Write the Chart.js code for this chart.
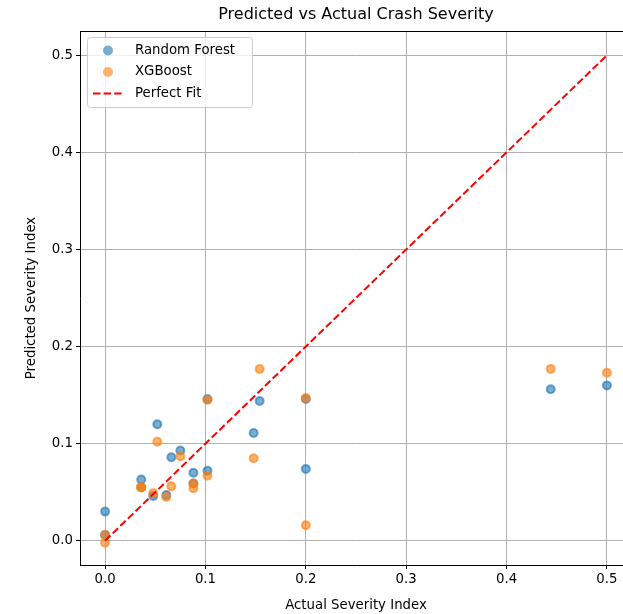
<!DOCTYPE html>
<html>
<head>
<meta charset="utf-8">
<script src="https://cdn.jsdelivr.net/npm/chart.js@4"></script>
<style>
  html, body { margin: 0; padding: 0; overflow: hidden; background: #fff; }
  #wrap { width: 640px; height: 614px; }
</style>
</head>
<body>
<div id="wrap"><canvas id="severityChart" width="640" height="614"></canvas></div>
<script>
// actual severity index (shared x values for both models)
const actualValues = [0, 0, 0.036, 0.036, 0.048, 0.052, 0.061, 0.066, 0.075, 0.088, 0.088,
    0.102, 0.102, 0.148, 0.154, 0.2, 0.2, 0.444, 0.5];
const randomForestPred = [0.030, 0.006, 0.063, 0.055, 0.046, 0.120, 0.047, 0.086, 0.093, 0.070, 0.059,
    0.146, 0.072, 0.111, 0.144, 0.146, 0.074, 0.156, 0.160];
const xgboostPred = [0.006, -0.002, 0.055, 0.055, 0.049, 0.102, 0.045, 0.056, 0.087, 0.059, 0.054,
    0.145, 0.067, 0.085, 0.177, 0.147, 0.016, 0.177, 0.173];
const perfectFitX = [0, 0.5];
const tickValues = [0, 0.1, 0.2, 0.3, 0.4, 0.5];

const FONT = "'DejaVu Sans', sans-serif";
const blueFill = "rgba(31, 119, 180, 0.6)";
const orangeFill = "rgba(255, 127, 14, 0.6)";

function toPoints(xs, ys) {
    return xs.map((x, i) => ({ x: x, y: ys[i] }));
}

// draws the title over the plot area, the top spine and the legend box
const decorPlugin = {
    id: "decor",
    afterDraw(chart) {
        const ctx = chart.ctx;
        const area = chart.chartArea;
        ctx.save();

        // top spine
        ctx.strokeStyle = "#000";
        ctx.lineWidth = 1;
        ctx.beginPath();
        ctx.moveTo(area.left, area.top + 0.5);
        ctx.lineTo(area.right, area.top + 0.5);
        ctx.stroke();

        // title centred on the axes
        ctx.fillStyle = "#000";
        ctx.font = "16px " + FONT;
        ctx.textAlign = "center";
        ctx.textBaseline = "middle";
        ctx.fillText("Predicted vs Actual Crash Severity", (area.left + area.right) / 2, 15);

        // legend
        const bx = 87, by = 37, bw = 165, bh = 70;
        ctx.fillStyle = "rgba(255,255,255,0.8)";
        ctx.strokeStyle = "#cccccc";
        ctx.lineWidth = 1;
        ctx.beginPath();
        ctx.roundRect(bx + 0.5, by + 0.5, bw, bh, 3);
        ctx.fill();
        ctx.stroke();

        ctx.font = "13.3px " + FONT;
        ctx.textAlign = "left";
        const rows = [50.5, 72, 93.5];
        chart.data.datasets.forEach((ds, i) => {
            const cy = rows[i];
            if (ds.type === "line") {
                ctx.strokeStyle = ds.borderColor;
                ctx.lineWidth = 2;
                ctx.setLineDash([7.4, 3.2]);
                ctx.beginPath();
                ctx.moveTo(93, cy);
                ctx.lineTo(123, cy);
                ctx.stroke();
                ctx.setLineDash([]);
            } else {
                ctx.fillStyle = ds.backgroundColor;
                ctx.beginPath();
                ctx.arc(108, cy, 5, 0, Math.PI * 2);
                ctx.fill();
            }
            ctx.fillStyle = "#000";
            ctx.fillText(ds.label, 135, cy);
        });
        ctx.restore();
    }
};

const ctx = document.getElementById("severityChart").getContext("2d");

new Chart(ctx, {
    type: "scatter",
    data: {
        datasets: [
            {
                label: "Random Forest",
                data: toPoints(actualValues, randomForestPred),
                backgroundColor: blueFill,
                borderColor: blueFill,
                borderWidth: 2,
                pointRadius: 4,
                order: 2
            },
            {
                label: "XGBoost",
                data: toPoints(actualValues, xgboostPred),
                backgroundColor: orangeFill,
                borderColor: orangeFill,
                borderWidth: 2,
                pointRadius: 4,
                order: 1
            },
            {
                type: "line",
                label: "Perfect Fit",
                data: toPoints(perfectFitX, perfectFitX),
                borderColor: "#ff0000",
                borderWidth: 2,
                borderDash: [7.4, 3.2],
                pointRadius: 0,
                fill: false,
                order: 0
            }
        ]
    },
    options: {
        responsive: false,
        animation: false,
        devicePixelRatio: 1,
        layout: { padding: { top: 31, right: 8, bottom: 0, left: 0 } },
        plugins: {
            legend: { display: false },
            title: { display: false },
            tooltip: { enabled: false }
        },
        scales: {
            x: {
                type: "linear",
                min: -0.025,
                max: 0.525,
                afterFit(scale) { scale.height = 49; },
                afterBuildTicks(scale) { scale.ticks = tickValues.map(v => ({ value: v })); },
                ticks: {
                    callback: v => v.toFixed(1),
                    color: "#000",
                    font: { family: FONT, size: 13.3 },
                    padding: 3,
                    maxRotation: 0
                },
                grid: { color: "#b0b0b0", lineWidth: 1, tickColor: "#000", tickLength: 4 },
                border: { display: true, color: "#000", width: 1 },
                title: {
                    display: true,
                    text: "Actual Severity Index",
                    color: "#000",
                    font: { family: FONT, size: 13.3 },
                    padding: { top: 2, bottom: 0 }
                }
            },
            y: {
                type: "linear",
                min: -0.025,
                max: 0.525,
                afterFit(scale) { scale.width = 80; },
                afterBuildTicks(scale) { scale.ticks = tickValues.map(v => ({ value: v })); },
                ticks: {
                    callback: v => v.toFixed(1),
                    color: "#000",
                    font: { family: FONT, size: 13.3 },
                    padding: 3
                },
                grid: { color: "#b0b0b0", lineWidth: 1, tickColor: "#000", tickLength: 4 },
                border: { display: true, color: "#000", width: 1 },
                title: {
                    display: true,
                    text: "Predicted Severity Index",
                    color: "#000",
                    font: { family: FONT, size: 13.3 },
                    padding: { top: 24, bottom: 0 }
                }
            }
        }
    },
    plugins: [decorPlugin]
});
</script>
</body>
</html>
